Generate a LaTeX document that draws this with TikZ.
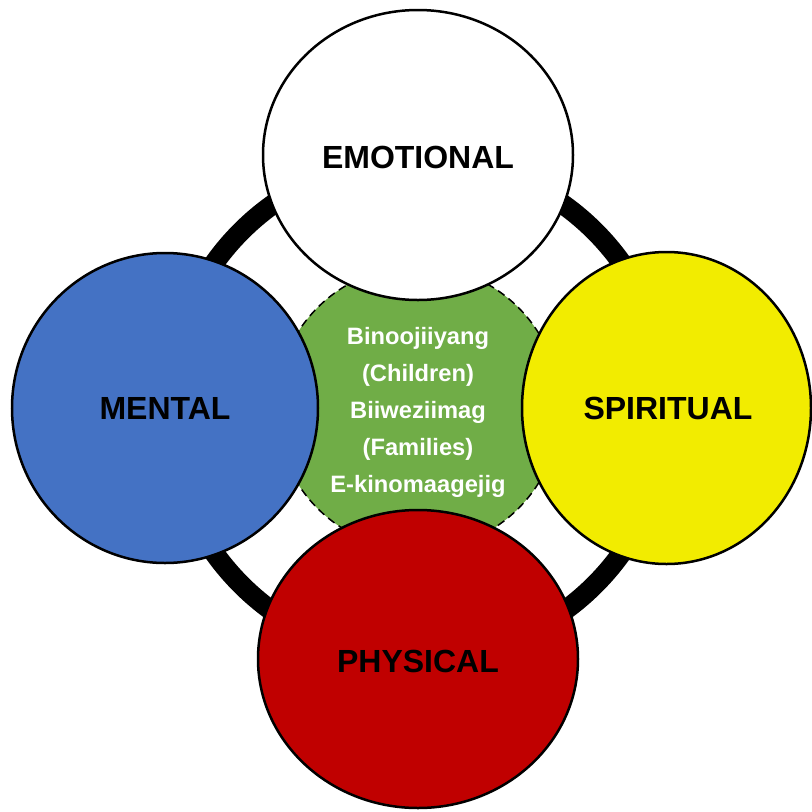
\documentclass[tikz,border=0pt]{standalone}
\usepackage{fontspec}
\setmainfont{Liberation Sans}
\definecolor{cgreen}{RGB}{112,173,71}
\definecolor{cblue}{RGB}{68,114,196}
\definecolor{cyellow}{RGB}{242,236,0}
\definecolor{cred}{RGB}{192,0,0}
\begin{document}
\begin{tikzpicture}[x=1pt,y=-1pt,
  petal/.style={draw=black,line width=2.5pt},
  bigtext/.style={font=\fontsize{32}{36}\selectfont\bfseries,text=black},
  centertext/.style={font=\fontsize{23.7}{37}\selectfont\bfseries,text=white,align=center}]
\useasboundingbox (0,0) rectangle (812,812);
\node[draw=black,line width=20pt,circle,minimum size=500pt,inner sep=0pt] (ring) at (418,408) {};
\node[fill=cgreen,draw=black,line width=1.5pt,dash pattern=on 8pt off 5pt,circle,minimum size=284pt,inner sep=0pt] (center) at (418,408) {};
\node[centertext] (ctext) at (418,412) {Binoojiiyang\\(Children)\\Biiweziimag\\(Families)\\E-kinomaagejig};
\fill[white] (418,155) ellipse [x radius=155, y radius=145];
\draw[petal] (418,155) ellipse [x radius=155, y radius=145];
\node[bigtext] (emo) at (418,157) {EMOTIONAL};
\fill[cblue] (165,408) ellipse [x radius=153, y radius=155];
\draw[petal] (165,408) ellipse [x radius=153, y radius=155];
\node[bigtext] (men) at (165,408) {MENTAL};
\fill[cyellow] (666.5,408) ellipse [x radius=144.5, y radius=156];
\draw[petal] (666.5,408) ellipse [x radius=144.5, y radius=156];
\node[bigtext] (spi) at (668,408) {SPIRITUAL};
\fill[cred] (418,659) ellipse [x radius=160, y radius=149];
\draw[petal] (418,659) ellipse [x radius=160, y radius=149];
\node[bigtext] (phy) at (418,661) {PHYSICAL};
\end{tikzpicture}
\end{document}
